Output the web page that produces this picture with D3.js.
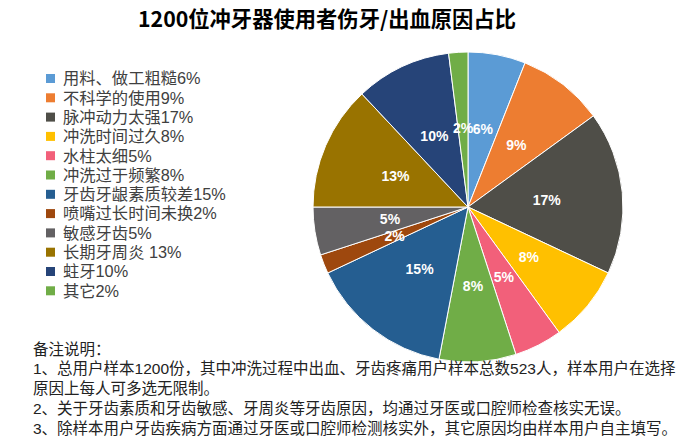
<!DOCTYPE html>
<html><head><meta charset="utf-8">
<script src="https://cdn.jsdelivr.net/npm/d3@7"></script>
<style>body{margin:0;background:#fff}svg{display:block}</style>
</head><body><svg id="c" width="687" height="445"></svg>
<script>
const categories = ["用料、做工粗糙","不科学的使用","脉冲动力太强","冲洗时间过久","水柱太细","冲洗过于频繁","牙齿牙龈素质较差","喷嘴过长时间未换","敏感牙齿","长期牙周炎 ","蛀牙","其它"];
const values = [6,9,17,8,5,8,15,2,5,13,10,2];
const colors = ["#5B9BD5","#ED7D31","#4F4E48","#FFC000","#F2607A","#70AD47","#255E91","#9E480E","#636163","#997300","#264478","#70AD47"];
const title = "1200位冲牙器使用者伤牙/出血原因占比";
const notes = ["备注说明：","1、总用户样本1200份，其中冲洗过程中出血、牙齿疼痛用户样本总数523人，样本用户在选择","原因上每人可多选无限制。","2、关于牙齿素质和牙齿敏感、牙周炎等牙齿原因，均通过牙医或口腔师检查核实无误。","3、除样本用户牙齿疾病方面通过牙医或口腔师检测核实外，其它原因均由样本用户自主填写。"];

const svg = d3.select("#c");
const font = "'Noto Sans CJK SC','Noto Sans',sans-serif";
const tfont = "'Liberation Sans','Noto Sans CJK SC',sans-serif";

svg.append("text").attr("x",327).attr("y",27).attr("text-anchor","middle")
  .attr("font-family",font).attr("font-weight","bold").attr("font-size",21.3).attr("fill","#000").text(title);

const cx=468, cy=207, R=155;
const pie = d3.pie().sort(null).value(d=>d)(values);
const arc = d3.arc().innerRadius(0).outerRadius(R);
const lab = d3.arc().innerRadius(79).outerRadius(79);
const g = svg.append("g").attr("transform",`translate(${cx},${cy})`);
g.selectAll("path").data(pie).join("path").attr("d",arc)
  .attr("fill",(d,i)=>colors[i]).attr("stroke","#fff").attr("stroke-width",1);
g.selectAll("text").data(pie).join("text")
  .attr("transform",d=>`translate(${lab.centroid(d)})`)
  .attr("text-anchor","middle").attr("dy","0.36em")
  .attr("font-family",tfont).attr("font-weight","bold").attr("font-size",14).attr("fill","#fff")
  .text(d=>d.data+"%");

const lg = svg.append("g");
const rows = lg.selectAll("g").data(categories).join("g")
  .attr("transform",(d,i)=>`translate(46,${78.5+i*19.3})`);
rows.append("rect").attr("x",0).attr("y",-4.5).attr("width",9).attr("height",9).attr("fill",(d,i)=>colors[i]);
rows.append("text").attr("x",17).attr("dy","0.36em").attr("font-family",tfont).attr("font-size",16.3)
  .attr("fill","#404040").text((d,i)=>d+values[i]+"%");

svg.append("g").selectAll("text").data(notes).join("text")
  .attr("x",33).attr("y",(d,i)=>349+i*19.8).attr("dy","0.36em")
  .attr("font-family",tfont).attr("font-size",15.5).attr("fill","#222").text(d=>d);
</script></body></html>
